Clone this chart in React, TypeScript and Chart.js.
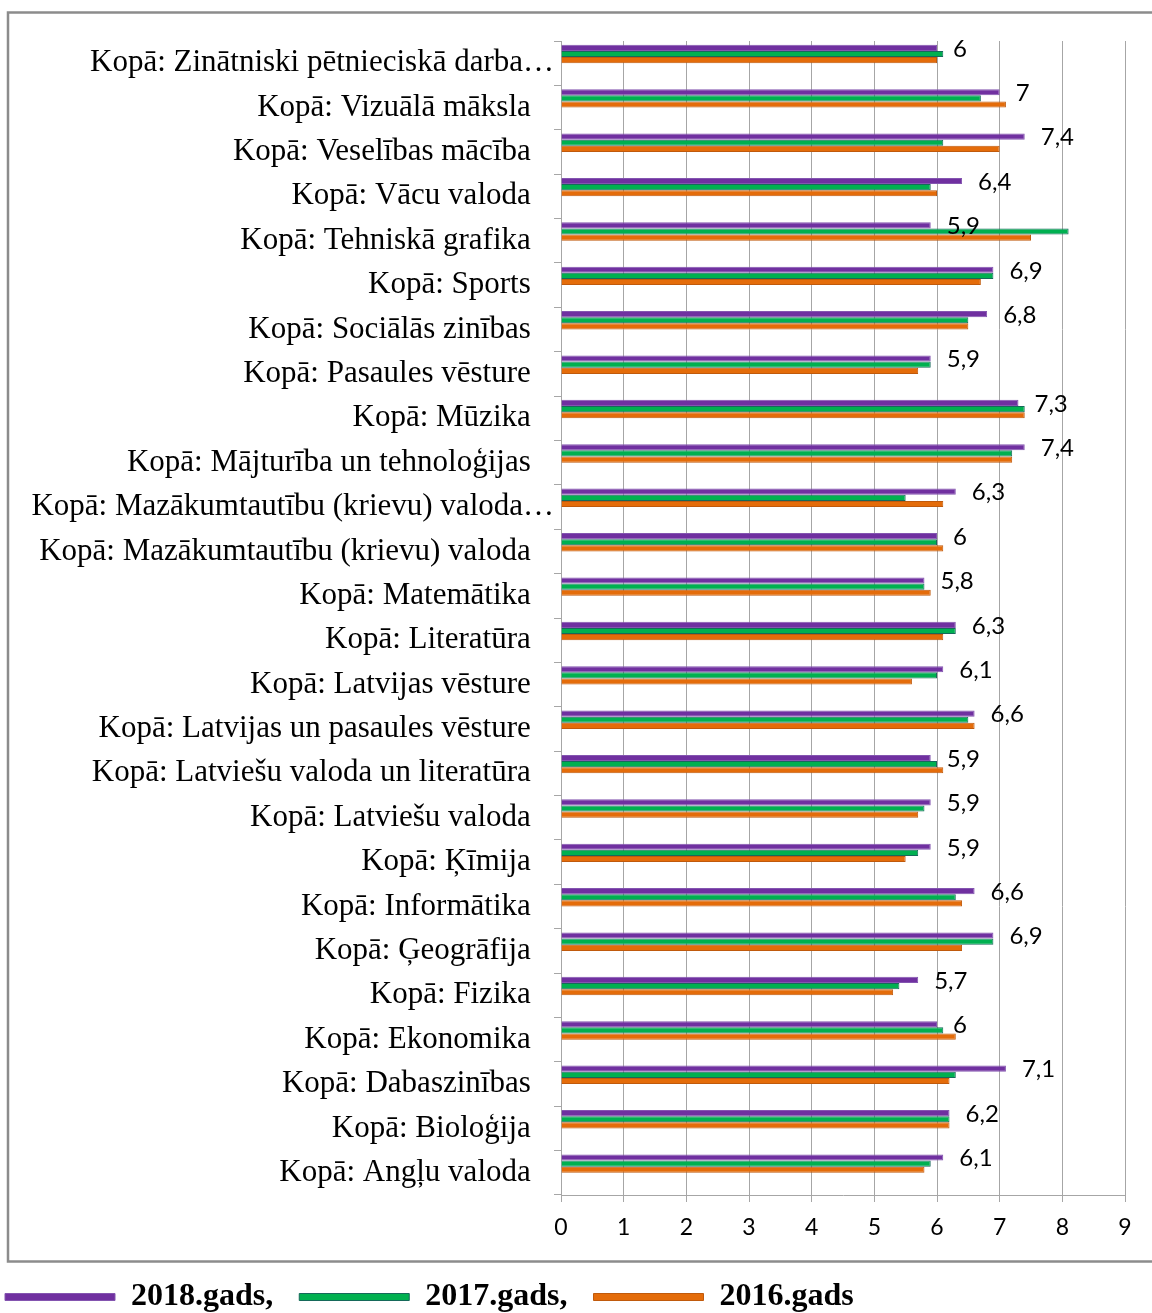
import React, { useEffect, useRef } from 'react';
import { Chart, registerables } from 'chart.js';

Chart.register(...registerables);

const categories: string[] = [
  'Kopā: Zinātniski pētnieciskā darba…',
  'Kopā: Vizuālā māksla',
  'Kopā: Veselības mācība',
  'Kopā: Vācu valoda',
  'Kopā: Tehniskā grafika',
  'Kopā: Sports',
  'Kopā: Sociālās zinības',
  'Kopā: Pasaules vēsture',
  'Kopā: Mūzika',
  'Kopā: Mājturība un tehnoloģijas',
  'Kopā: Mazākumtautību (krievu) valoda…',
  'Kopā: Mazākumtautību (krievu) valoda',
  'Kopā: Matemātika',
  'Kopā: Literatūra',
  'Kopā: Latvijas vēsture',
  'Kopā: Latvijas un pasaules vēsture',
  'Kopā: Latviešu valoda un literatūra',
  'Kopā: Latviešu valoda',
  'Kopā: Ķīmija',
  'Kopā: Informātika',
  'Kopā: Ģeogrāfija',
  'Kopā: Fizika',
  'Kopā: Ekonomika',
  'Kopā: Dabaszinības',
  'Kopā: Bioloģija',
  'Kopā: Angļu valoda',
];

const values2018: number[] = [6, 7, 7.4, 6.4, 5.9, 6.9, 6.8, 5.9, 7.3, 7.4, 6.3, 6, 5.8, 6.3, 6.1, 6.6, 5.9, 5.9, 5.9, 6.6, 6.9, 5.7, 6, 7.1, 6.2, 6.1];
const values2017: number[] = [6.1, 6.7, 6.1, 5.9, 8.1, 6.9, 6.5, 5.9, 7.4, 7.2, 5.5, 6, 5.8, 6.3, 6, 6.5, 6, 5.8, 5.7, 6.3, 6.9, 5.4, 6.1, 6.3, 6.2, 5.9];
const values2016: number[] = [6, 7.1, 7, 6, 7.5, 6.7, 6.5, 5.7, 7.4, 7.2, 6.1, 6.1, 5.9, 6.1, 5.6, 6.6, 6.1, 5.7, 5.5, 6.4, 6.4, 5.3, 6.3, 6.2, 6.2, 5.8];

const seriesNames: string[] = ['2018.gads,', '2017.gads,', '2016.gads'];
const xTicks: number[] = [0, 1, 2, 3, 4, 5, 6, 7, 8, 9];

const W = 1152;
const H = 1323;
const GRID = '#a6a6a6';

export default function App() {
  const ref = useRef<HTMLCanvasElement>(null);

  useEffect(() => {
    if (!ref.current) return;

    const frame = {
      id: 'frame',
      beforeDraw(chart: any) {
        const ctx = chart.ctx;
        ctx.save();
        ctx.fillStyle = '#ffffff';
        ctx.fillRect(0, 0, W, H);
        ctx.strokeStyle = '#8c8c8c';
        ctx.lineWidth = 2.5;
        ctx.strokeRect(8, 12.5, 1200, 1249);
        ctx.restore();
      },
    };

    const valueLabels = {
      id: 'valueLabels',
      afterDatasetsDraw(chart: any) {
        const ctx = chart.ctx;
        const meta = chart.getDatasetMeta(0);
        ctx.save();
        ctx.font = '24px Lato, "Noto Sans", sans-serif';
        ctx.fillStyle = '#000000';
        ctx.textAlign = 'left';
        ctx.textBaseline = 'middle';
        meta.data.forEach((bar: any, i: number) => {
          const v = values2018[i];
          ctx.fillText(String(v).replace('.', ','), bar.x + 16, bar.y + 1);
        });
        ctx.restore();
      },
    };

    const chart = new Chart(ref.current, {
      type: 'bar',
      data: {
        labels: categories,
        datasets: [
          { label: seriesNames[0], data: values2018, backgroundColor: '#7030a0', borderColor: '#8455b0', borderWidth: 1 },
          { label: seriesNames[1], data: values2017, backgroundColor: '#00b050', borderColor: '#16695a', borderWidth: 1 },
          { label: seriesNames[2], data: values2016, backgroundColor: '#e46c0a', borderColor: '#c05a0c', borderWidth: 1 },
          { label: '', data: [], backgroundColor: 'transparent' },
          { label: '', data: [], backgroundColor: 'transparent' },
          { label: '', data: [], backgroundColor: 'transparent' },
        ],
      },
      options: {
        indexAxis: 'y',
        responsive: false,
        animation: false,
        events: [],
        layout: { padding: { top: 41, left: -21, right: 27, bottom: 0 } },
        datasets: { bar: { categoryPercentage: 0.83, barPercentage: 1.0 } },
        scales: {
          x: {
            min: 0,
            max: 9,
            afterBuildTicks: (s: any) => { s.ticks = xTicks.map((v) => ({ value: v })); },
            afterFit: (s: any) => { s.height = 60; },
            grid: { color: GRID, lineWidth: 1, tickLength: 7, drawTicks: true },
            border: { display: true, color: GRID, width: 1 },
            ticks: {
              padding: 12,
              color: '#000000',
              font: { family: 'Lato, "Noto Sans", sans-serif', size: 23 },
              callback: (v: any) => String(v),
            },
          },
          y: {
            afterFit: (s: any) => { s.width = 582; },
            grid: { drawOnChartArea: false, drawTicks: true, tickLength: 7, color: GRID, offset: true },
            border: { display: true, color: GRID, width: 1 },
            ticks: {
              autoSkip: false,
              padding: 0,
              color: '#000000',
              font: { family: '"Liberation Serif", "Times New Roman", serif', size: 31 },
              callback: (_v: any, i: number) => {
                const t = categories[i];
                return t.endsWith('…') ? t : t + '   ';
              },
            },
          },
        },
        plugins: {
          tooltip: { enabled: false },
          title: { display: false },
          legend: {
            display: true,
            position: 'bottom',
            align: 'start',
            labels: {
              filter: (item: any) => item.datasetIndex < 3,
              boxWidth: 110,
              boxHeight: 7,
              padding: 26,
              color: '#000000',
              font: { family: '"Liberation Serif", "Times New Roman", serif', size: 32, weight: 'bold' },
            },
          },
        },
      },
      plugins: [frame, valueLabels],
    } as any);

    return () => chart.destroy();
  }, []);

  return (
    <div style={{ position: 'absolute', left: 0, top: 0, width: W, height: 1313, overflow: 'hidden', background: '#ffffff' }}>
      <canvas ref={ref} width={W} height={H} style={{ display: 'block', width: W, height: H }} />
    </div>
  );
}
